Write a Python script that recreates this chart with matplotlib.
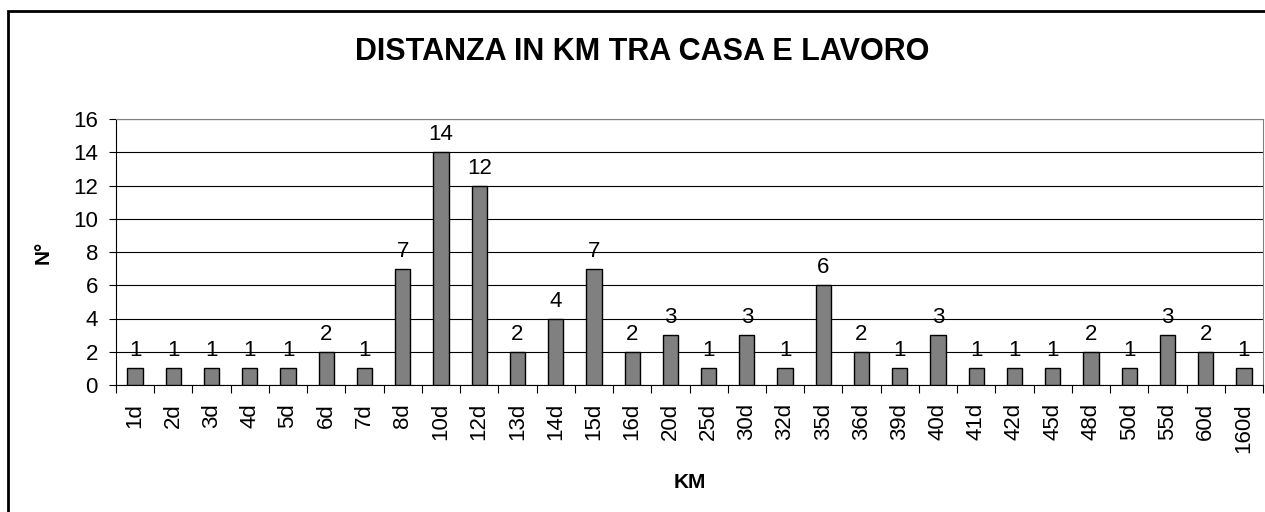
import numpy as np
import matplotlib
matplotlib.use('Agg')
import matplotlib.pyplot as plt
from matplotlib.patches import Rectangle

plt.rcParams['font.family'] = ['Liberation Sans', 'DejaVu Sans']

# data
km = ['1d', '2d', '3d', '4d', '5d', '6d', '7d', '8d', '10d', '12d',
      '13d', '14d', '15d', '16d', '20d', '25d', '30d', '32d', '35d', '36d',
      '39d', '40d', '41d', '42d', '45d', '48d', '50d', '55d', '60d', '160d']
count = [1, 1, 1, 1, 1, 2, 1, 7, 14, 12,
         2, 4, 7, 2, 3, 1, 3, 1, 6, 2,
         1, 3, 1, 1, 1, 2, 1, 3, 2, 1]

W, H = 1265, 512
fig = plt.figure(figsize=(W / 100, H / 100), dpi=100)

# outer chart border (right and bottom are cropped off in the original)
fig.patches.append(Rectangle((8 / W, -0.1), 1.2, 1.1 - 11 / H, transform=fig.transFigure,
                             fill=False, edgecolor='black', linewidth=2))

ax = fig.add_axes([116 / W, 1 - 385 / H, (1263 - 116) / W, (385 - 119) / H])

x = np.arange(len(km))
ax.bar(x, count, width=0.4, color='#808080', edgecolor='black', linewidth=1, zorder=3)
for xi, c in zip(x, count):
    ax.annotate(str(c), (xi, c), xytext=(0, 5), textcoords='offset points',
                ha='center', va='bottom', fontsize=16, zorder=4)

ax.set_xlim(-0.5, len(km) - 0.5)
ax.set_ylim(0, 16)
ax.set_yticks(range(0, 17, 2))
ax.set_yticklabels([str(v) for v in range(0, 17, 2)], fontsize=16)
ax.grid(axis='y', color='black', linewidth=0.8, zorder=0)

# category ticks sit between bars, labels at the bars
ax.set_xticks(np.arange(len(km) + 1) - 0.5)
ax.set_xticklabels([])
ax.set_xticks(x, minor=True)
ax.set_xticklabels(km, minor=True, rotation=90, fontsize=16)
ax.tick_params(axis='x', which='minor', length=0, pad=13)
ax.tick_params(axis='x', which='major', length=6, direction='out')
ax.tick_params(axis='y', length=5, direction='out', pad=8)

for side in ['top', 'right']:
    ax.spines[side].set_color('#808080')
ax.spines['left'].set_color('black')
ax.spines['bottom'].set_color('black')

fig.text(642 / W, 1 - 60 / H, 'DISTANZA IN KM TRA CASA E LAVORO', ha='center', va='baseline',
         fontsize=22, fontweight='bold')
fig.text(690 / W, 1 - 482 / H, 'KM', ha='center', va='center', fontsize=15, fontweight='bold')
fig.text(43 / W, 1 - 252 / H, 'N°', ha='center', va='center', rotation=90,
         fontsize=15, fontweight='bold')

fig.savefig('out.png', dpi=100)
